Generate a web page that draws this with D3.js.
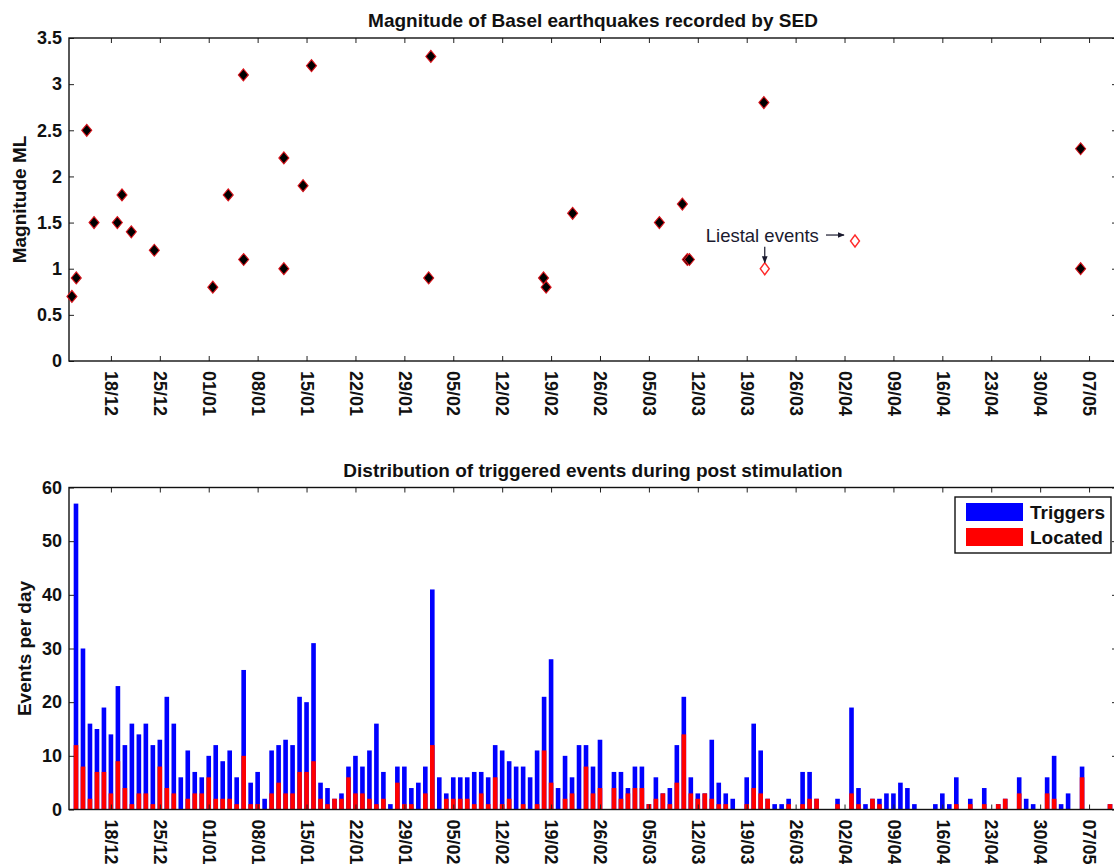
<!DOCTYPE html>
<html lang="en">
<head>
<meta charset="UTF-8">
<title>Basel earthquakes</title>
<script src="https://d3js.org/d3.v7.min.js"></script>
<style>
  body { margin: 0; background: #fff; }
  svg { display: block; font-family: "Liberation Sans", Arial, Helvetica, sans-serif; }
  .tick line { stroke: #222; stroke-width: 1; }
  .tick text { fill: #111; font-weight: bold; font-size: 18px; }
</style>
</head>
<body>
<svg width="1114" height="864"></svg>
<script>
// ---- data ----
// Magnitudes of Basel events (SED catalogue)
const quakeDates = [
  "2006-12-12T10:00", "2006-12-13T01:00", "2006-12-14T13:00", "2006-12-15T14:00",
  "2006-12-18T22:00", "2006-12-19T14:00", "2006-12-20T22:00", "2006-12-24T05:00",
  "2007-01-01T14:00", "2007-01-03T19:00", "2007-01-05T23:00", "2007-01-06T00:00",
  "2007-01-11T18:00", "2007-01-11T18:00", "2007-01-14T12:00", "2007-01-15T17:00",
  "2007-02-01T19:00", "2007-02-01T11:30", "2007-02-17T22:00", "2007-02-18T07:00",
  "2007-02-22T02:00", "2007-03-06T12:00", "2007-03-09T19:00", "2007-03-10T12:00",
  "2007-03-10T19:00", "2007-03-21T11:00", "2007-05-05T19:00", "2007-05-05T19:00"
];
const quakeMags = [
  0.7, 0.9, 2.5, 1.5,
  1.5, 1.8, 1.4, 1.2,
  0.8, 1.8, 3.1, 1.1,
  2.2, 1.0, 1.9, 3.2,
  3.3, 0.9, 0.9, 0.8,
  1.6, 1.5, 1.7, 1.1,
  1.1, 2.8, 2.3, 1.0
];
const liestalDates = ["2007-03-21T14:00", "2007-04-03T12:00"];
const liestalMags = [1.0, 1.3];

// Daily counts, first bar is 13/12/2006
const firstDay = "2006-12-13";
const triggers = [
  57, 30, 16, 15, 19, 14, 23, 12, 16, 14, 16, 12, 13, 21, 16, 6, 11, 7, 6, 10,
  12, 9, 11, 6, 26, 5, 7, 2, 11, 12, 13, 12, 21, 20, 31, 5, 4, 2, 3, 8,
  10, 8, 11, 16, 7, 1, 8, 8, 4, 5, 8, 41, 6, 3, 6, 6, 6, 7, 7, 6,
  12, 11, 9, 8, 8, 6, 11, 21, 28, 4, 10, 6, 12, 12, 8, 13, 0, 7, 7, 4,
  8, 8, 1, 6, 3, 4, 12, 21, 6, 3, 3, 13, 5, 3, 2, 0, 6, 16, 11, 2,
  1, 1, 2, 0, 7, 7, 2, 0, 0, 2, 0, 19, 4, 1, 2, 2, 3, 3, 5, 4,
  1, 0, 0, 1, 3, 1, 6, 0, 2, 0, 4, 0, 1, 2, 0, 6, 2, 1, 0, 6,
  10, 1, 3, 0, 8, 0, 0, 0, 1
];
const located = [
  12, 8, 2, 7, 7, 3, 9, 4, 1, 3, 3, 1, 8, 4, 3, 0, 2, 3, 3, 6,
  2, 2, 2, 1, 10, 1, 1, 0, 3, 5, 3, 3, 7, 7, 9, 2, 1, 2, 2, 6,
  3, 3, 2, 1, 2, 0, 5, 1, 1, 0, 3, 12, 0, 2, 2, 2, 2, 1, 3, 1,
  6, 1, 2, 0, 1, 0, 1, 11, 5, 0, 2, 3, 0, 8, 3, 4, 0, 4, 2, 3,
  4, 4, 1, 2, 3, 1, 5, 14, 3, 2, 3, 2, 1, 1, 0, 0, 1, 4, 3, 2,
  0, 0, 1, 0, 1, 2, 2, 0, 0, 1, 0, 3, 1, 0, 2, 1, 0, 0, 0, 0,
  0, 0, 0, 0, 0, 0, 1, 0, 1, 0, 1, 0, 1, 2, 0, 3, 0, 0, 0, 3,
  2, 0, 0, 0, 6, 0, 0, 0, 1
];

// Weekly tick marks on the date axis
const weekTicks = [
  "2006-12-18", "2006-12-25", "2007-01-01", "2007-01-08", "2007-01-15", "2007-01-22",
  "2007-01-29", "2007-02-05", "2007-02-12", "2007-02-19", "2007-02-26", "2007-03-05",
  "2007-03-12", "2007-03-19", "2007-03-26", "2007-04-02", "2007-04-09", "2007-04-16",
  "2007-04-23", "2007-04-30", "2007-05-07"
];
const weekLabels = [
  "18/12", "25/12", "01/01", "08/01", "15/01", "22/01", "29/01", "05/02", "12/02",
  "19/02", "26/02", "05/03", "12/03", "19/03", "26/03", "02/04", "09/04", "16/04",
  "23/04", "30/04", "07/05"
];
const magTicks = [0, 0.5, 1, 1.5, 2, 2.5, 3, 3.5];
const countTicks = [0, 10, 20, 30, 40, 50, 60];

// ---- helpers ----
const parse = d3.utcParse("%Y-%m-%dT%H:%M");
const parseDay = d3.utcParse("%Y-%m-%d");
const tickDates = weekTicks.map(parseDay);

const svg = d3.select("svg");
const left = 69, right = 1117;

const x = d3.scaleUtc()
    .domain([parseDay("2006-12-12"), parseDay("2007-05-11")])
    .range([left, right]);

// diamond marker (MATLAB 'd')
function diamond(w, h) {
    return "M0," + (-h / 2) + "L" + (w / 2) + ",0L0," + (h / 2) + "L" + (-w / 2) + ",0Z";
}

// draws box, inward ticks on all four sides and labels
function drawFrame(g, y, yTicks, top, bottom, ylabel, ylabelX, title) {
    const labelFor = {};
    tickDates.forEach((d, i) => labelFor[+d] = weekLabels[i]);

    const xb = g.append("g")
        .attr("transform", "translate(0," + bottom + ")")
        .call(d3.axisBottom(x).tickValues(tickDates).tickSizeInner(-5).tickSizeOuter(0)
            .tickFormat(d => labelFor[+d]));
    xb.selectAll(".tick text")
        .attr("transform", "rotate(90)")
        .attr("x", 10)
        .attr("y", 0)
        .attr("dy", "0.35em")
        .style("text-anchor", "start");

    g.append("g")
        .attr("transform", "translate(0," + top + ")")
        .call(d3.axisTop(x).tickValues(tickDates).tickSizeInner(-5).tickSizeOuter(0).tickFormat(""));

    g.append("g")
        .attr("transform", "translate(" + left + ",0)")
        .call(d3.axisLeft(y).tickValues(yTicks).tickSizeInner(-5).tickSizeOuter(0)
            .tickPadding(7).tickFormat(d => String(d)));

    g.append("g")
        .attr("transform", "translate(" + right + ",0)")
        .call(d3.axisRight(y).tickValues(yTicks).tickSizeInner(-5).tickSizeOuter(0).tickFormat(""));

    g.selectAll(".domain").remove();

    g.append("rect")
        .attr("x", left).attr("y", top)
        .attr("width", right - left).attr("height", bottom - top)
        .attr("fill", "none").attr("stroke", "#111").attr("stroke-width", 1.4);

    g.append("text")
        .attr("transform", "translate(" + ylabelX + "," + ((top + bottom) / 2) + ") rotate(-90)")
        .attr("text-anchor", "middle")
        .attr("font-weight", "bold").attr("font-size", "19px").attr("fill", "#111")
        .text(ylabel);

    g.append("text")
        .attr("x", (left + right) / 2)
        .attr("y", top - 11)
        .attr("text-anchor", "middle")
        .attr("font-weight", "bold").attr("font-size", "19px").attr("fill", "#111")
        .text(title);
}

// ---- top panel: magnitudes ----
const yMag = d3.scaleLinear().domain([0, 3.5]).range([361, 38]);
const gTop = svg.append("g");

drawFrame(gTop, yMag, magTicks, 38, 361, "Magnitude ML", 26,
    "Magnitude of Basel earthquakes recorded by SED");

gTop.append("g")
    .selectAll("path")
    .data(quakeDates.map((d, i) => ({ date: parse(d), mag: quakeMags[i] })))
    .join("path")
    .attr("d", diamond(10, 12))
    .attr("transform", d => "translate(" + x(d.date) + "," + yMag(d.mag) + ")")
    .attr("fill", "#000")
    .attr("stroke", "#d8141c")
    .attr("stroke-width", 1.1);

const liestal = liestalDates.map((d, i) => ({ date: parse(d), mag: liestalMags[i] }));
gTop.append("g")
    .selectAll("path")
    .data(liestal)
    .join("path")
    .attr("d", diamond(9, 12))
    .attr("transform", d => "translate(" + x(d.date) + "," + yMag(d.mag) + ")")
    .attr("fill", "#fff")
    .attr("stroke", "#ff2a2a")
    .attr("stroke-width", 1.4);

// annotation for the Liestal events
svg.append("defs").append("marker")
    .attr("id", "ahead")
    .attr("viewBox", "0 0 10 10")
    .attr("refX", 9).attr("refY", 5)
    .attr("markerWidth", 6).attr("markerHeight", 6)
    .attr("orient", "auto")
    .append("path")
    .attr("d", "M0,1L10,5L0,9Z")
    .attr("fill", "#1a1a2e");

const l1x = x(liestal[0].date), l1y = yMag(liestal[0].mag);
const l2x = x(liestal[1].date), l2y = yMag(liestal[1].mag);

gTop.append("text")
    .attr("x", l1x - 59)
    .attr("y", l1y - 27)
    .attr("font-size", "18.5px")
    .attr("fill", "#1a1a2e")
    .text("Liestal events");

gTop.append("line")
    .attr("x1", l2x - 29).attr("y1", l2y - 6)
    .attr("x2", l2x - 11).attr("y2", l2y - 6)
    .attr("stroke", "#1a1a2e").attr("stroke-width", 1.2)
    .attr("marker-end", "url(#ahead)");

gTop.append("line")
    .attr("x1", l1x).attr("y1", l1y - 22)
    .attr("x2", l1x).attr("y2", l1y - 6)
    .attr("stroke", "#1a1a2e").attr("stroke-width", 1.2)
    .attr("marker-end", "url(#ahead)");

// ---- bottom panel: daily events ----
const yCnt = d3.scaleLinear().domain([0, 60]).range([809.5, 487.5]);
const gBot = svg.append("g");

const day0 = parseDay(firstDay);
const days = triggers.map((t, i) => ({
    date: d3.utcDay.offset(day0, i),
    trig: t,
    loc: located[i]
}));
const bw = (x(d3.utcDay.offset(day0, 1)) - x(day0)) * 0.66;

gBot.append("g")
    .selectAll("rect")
    .data(days.filter(d => d.trig > 0))
    .join("rect")
    .attr("x", d => x(d.date) - bw / 2)
    .attr("width", bw)
    .attr("y", d => yCnt(d.trig))
    .attr("height", d => yCnt(0) - yCnt(d.trig))
    .attr("fill", "#0000ff");

gBot.append("g")
    .selectAll("rect")
    .data(days.filter(d => d.loc > 0))
    .join("rect")
    .attr("x", d => x(d.date) - bw / 2)
    .attr("width", bw)
    .attr("y", d => yCnt(d.loc))
    .attr("height", d => yCnt(0) - yCnt(d.loc))
    .attr("fill", "#ff0000");

drawFrame(gBot, yCnt, countTicks, 487.5, 809.5, "Events per day", 31,
    "Distribution of triggered events during post stimulation");

// legend
const leg = gBot.append("g");
leg.append("rect")
    .attr("x", 955).attr("y", 497)
    .attr("width", 156).attr("height", 56)
    .attr("fill", "#fff").attr("stroke", "#111").attr("stroke-width", 1.4);
const legItems = [["Triggers", "#0000ff"], ["Located", "#ff0000"]];
legItems.forEach((it, i) => {
    leg.append("rect")
        .attr("x", 966).attr("y", 503 + i * 25)
        .attr("width", 57).attr("height", 18)
        .attr("fill", it[1]);
    leg.append("text")
        .attr("x", 1030).attr("y", 519 + i * 25)
        .attr("font-weight", "bold").attr("font-size", "19px").attr("fill", "#111")
        .text(it[0]);
});
</script>
</body>
</html>
